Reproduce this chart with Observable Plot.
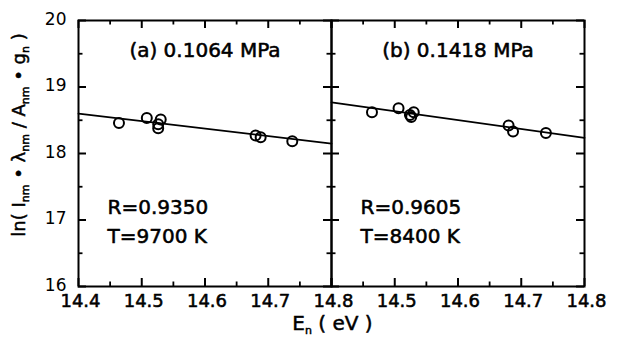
<!DOCTYPE html>
<html>
<head>
<meta charset="utf-8">
<script src="https://cdn.jsdelivr.net/npm/d3@7"></script>
<script src="https://cdn.jsdelivr.net/npm/@observablehq/plot@0.6"></script>
<style>
  html, body { margin: 0; padding: 0; background: #fff; }
  #chart svg { display: block; }
</style>
</head>
<body>
<div id="chart"></div>
<script>
// ---- data ----
const panels = ["a", "b"];
const energyA = [14.464, 14.508, 14.530, 14.526, 14.526, 14.680, 14.688, 14.738];
const lnA     = [18.46, 18.535, 18.51, 18.44, 18.38, 18.27, 18.245, 18.185];
const energyB = [14.464, 14.506, 14.530, 14.524, 14.526, 14.680, 14.687, 14.739];
const lnB     = [18.62, 18.68, 18.62, 18.58, 18.55, 18.42, 18.33, 18.31];
const fitEnergy = [14.4, 14.8];
const fitA = [18.60, 18.15];
const fitB = [18.77, 18.235];
const titles = ["(a) 0.1064 MPa", "(b) 0.1418 MPa"];
const rLabels = ["R=0.9350", "R=0.9605"];
const tLabels = ["T=9700 K", "T=8400 K"];
const xTicks = [14.4, 14.5, 14.6, 14.7, 14.8];
const xMinor = [14.45, 14.55, 14.65, 14.75];
const yTicks = [16, 17, 18, 19, 20];
const yMinor = [16.5, 17.5, 18.5, 19.5];

// ---- tables built from the arrays ----
const points = [
  ...energyA.map((e, i) => ({panel: "a", energy: e, ln: lnA[i]})),
  ...energyB.map((e, i) => ({panel: "b", energy: e, ln: lnB[i]}))
];
const fits = [
  ...fitEnergy.map((e, i) => ({panel: "a", energy: e, ln: fitA[i]})),
  ...fitEnergy.map((e, i) => ({panel: "b", energy: e, ln: fitB[i]}))
];
const annot = panels.map((p, i) => ({panel: p, title: titles[i], r: rLabels[i], t: tLabels[i]}));
// x tick labels: panel b skips its first label (it coincides with 14.8 of panel a)
const xLabels = [
  ...xTicks.map(v => ({panel: "a", v})),
  ...xTicks.slice(1).map(v => ({panel: "b", v}))
];
// every tick value repeated for each panel, so each facet gets its own ticks
const perPanel = vals => panels.flatMap(p => vals.map(v => ({panel: p, v})));

const W = 619, H = 342;
const mL = 77, mR = 35, mT = 20, mB = 56;
const xDomain = [14.4, 14.8], yDomain = [16, 20];
const innerH = H - mT - mB;
const facetW = (W - mL - mR) / 2;
// tick lengths in pixels, converted to data units for inward ticks
const major = 8, minor = 4.5;
const pxX = facetW / (xDomain[1] - xDomain[0]);
const pxY = innerH / (yDomain[1] - yDomain[0]);

const font = "DejaVu Sans, Verdana, sans-serif";
const heavy = {stroke: "#000", strokeWidth: 0.55, fill: "#000"};

const xTick = (vals, len, edge, dir, sw) =>
  Plot.ruleX(perPanel(vals), {fx: "panel", x: "v", y1: edge, y2: edge + dir * len / pxY,
                              stroke: "#000", strokeWidth: sw});
const yTick = (vals, len, edge, dir, sw) =>
  Plot.ruleY(perPanel(vals), {fx: "panel", y: "v", x1: edge, x2: edge + dir * len / pxX,
                              stroke: "#000", strokeWidth: sw});

const plot = Plot.plot({
  width: W, height: H,
  marginLeft: mL, marginRight: mR, marginTop: mT, marginBottom: mB,
  style: {fontFamily: font, fontSize: "18px", color: "#000", background: "#fff", overflow: "visible"},
  fx: {domain: panels, padding: 0, axis: null},
  x: {domain: xDomain, axis: null},
  y: {domain: yDomain, axis: null},
  marks: [
    // inward ticks on all four sides of each panel
    xTick(xTicks, major, yDomain[0], +1, 2),
    xTick(xTicks, major, yDomain[1], -1, 2),
    xTick(xMinor, minor, yDomain[0], +1, 1.8),
    xTick(xMinor, minor, yDomain[1], -1, 1.8),
    yTick(yTicks, major, xDomain[0], +1, 2),
    yTick(yTicks, major, xDomain[1], -1, 2),
    yTick(yMinor, minor, xDomain[0], +1, 1.8),
    yTick(yMinor, minor, xDomain[1], -1, 1.8),
    Plot.frame({stroke: "#000", strokeWidth: 2}),
    // y tick labels (left panel only)
    Plot.axisY({ticks: yTicks, tickSize: 0, tickPadding: 12, label: null, fontSize: 17, dy: -1,
                tickFormat: d => String(d), ...heavy}),
    // x tick labels
    Plot.text(xLabels, {fx: "panel", x: "v", text: d => d.v.toFixed(1), frameAnchor: "bottom",
                        lineAnchor: "middle", dy: 15, dx: 2, fontSize: 18, ...heavy}),
    // fit lines
    Plot.line(fits, {fx: "panel", x: "energy", y: "ln", stroke: "#000", strokeWidth: 1.8}),
    // measured points
    Plot.dot(points, {fx: "panel", x: "energy", y: "ln", r: 5, stroke: "#000", strokeWidth: 2, fill: "none"}),
    // annotations
    Plot.text(annot, {fx: "panel", text: "title", frameAnchor: "top", lineAnchor: "middle",
                      dy: 30, fontSize: 20, ...heavy}),
    Plot.text(annot, {fx: "panel", text: "r", frameAnchor: "top-left", lineAnchor: "middle",
                      textAnchor: "start", dx: 29, dy: 187, fontSize: 20, ...heavy}),
    Plot.text(annot, {fx: "panel", text: "t", frameAnchor: "top-left", lineAnchor: "middle",
                      textAnchor: "start", dx: 29, dy: 216, fontSize: 20, ...heavy})
  ]
});

document.getElementById("chart").appendChild(plot);

// axis titles with subscripts
const svg = d3.select(plot);
const styleText = sel => sel
  .attr("font-family", font)
  .attr("fill", "#000")
  .attr("stroke", "#000")
  .attr("stroke-width", 0.5);
const ylab = svg.append("text")
  .attr("transform", `translate(25,${(mT + 240) / 2 + 5}) rotate(-90)`)
  .attr("text-anchor", "middle")
  .attr("font-size", 18)
  .call(styleText);
const sub = (sel, t) => sel.append("tspan").attr("font-size", 11).attr("dy", 4).text(t);
const norm = (sel, t, fs) => sel.append("tspan").attr("font-size", fs).attr("dy", -4).text(t);
ylab.append("tspan").text("ln( I");
sub(ylab, "nm"); norm(ylab, " • λ", 18);
sub(ylab, "nm"); norm(ylab, " / A", 18);
sub(ylab, "nm"); norm(ylab, " • g", 18);
sub(ylab, "n"); norm(ylab, " )", 18);

const xlab = svg.append("text")
  .attr("x", mL + facetW + 2)
  .attr("y", 330)
  .attr("text-anchor", "middle")
  .attr("font-size", 20)
  .call(styleText);
xlab.append("tspan").text("E");
sub(xlab, "n"); norm(xlab, " ( eV )", 20);
</script>
</body>
</html>
